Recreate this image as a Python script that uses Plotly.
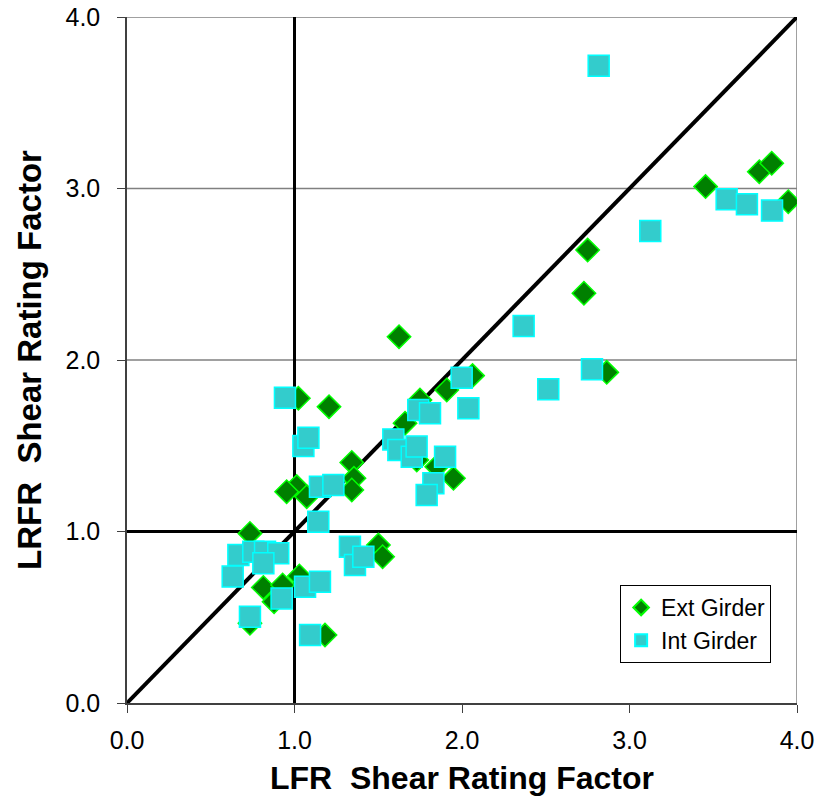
import plotly.graph_objects as go

ext_x = [1.624, 1.023, 1.206, 2.750, 2.728, 3.454, 3.775, 3.849, 3.948, 2.864,
         2.063, 1.909, 1.749, 1.660, 1.342, 1.355, 1.342, 1.013, 0.953, 1.073,
         1.849, 1.949, 1.730, 0.734, 1.501, 1.526, 0.814, 0.929, 0.878, 1.029,
         0.734, 1.182]
ext_y = [2.136, 1.777, 1.728, 2.641, 2.389, 3.011, 3.098, 3.147, 2.923, 1.928,
         1.909, 1.825, 1.767, 1.631, 1.403, 1.310, 1.242, 1.262, 1.232, 1.203,
         1.378, 1.310, 1.417, 0.989, 0.921, 0.853, 0.674, 0.688, 0.591, 0.741,
         0.465, 0.396]

int_x = [2.816, 3.580, 3.701, 3.851, 3.124, 2.368, 2.515, 2.776, 1.998, 2.038,
         0.943, 1.053, 1.083, 1.739, 1.809, 1.590, 1.620, 1.700, 1.729, 1.899,
         1.829, 1.789, 1.152, 1.232, 1.142, 1.331, 1.361, 1.411, 0.665, 0.754,
         0.824, 0.903, 0.814, 0.631, 0.923, 1.063, 1.152, 0.734, 1.093]
int_y = [3.716, 2.937, 2.908, 2.871, 2.752, 2.198, 1.829, 1.946, 1.897, 1.718,
         1.780, 1.499, 1.547, 1.708, 1.690, 1.537, 1.475, 1.436, 1.495, 1.436,
         1.281, 1.213, 1.261, 1.271, 1.057, 0.911, 0.805, 0.853, 0.863, 0.882,
         0.882, 0.873, 0.815, 0.737, 0.610, 0.678, 0.707, 0.503, 0.396]

tick_vals = [0, 1, 2, 3, 4]
tick_text = ["0.0", "1.0", "2.0", "3.0", "4.0"]
grid_vals = [2, 3, 4]
ref_line = [0, 4]

FONT = "Liberation Sans, Arial, sans-serif"

fig = go.Figure()
fig.add_trace(go.Scatter(x=ref_line, y=ref_line, mode="lines",
                         line=dict(color="black", width=4), showlegend=False,
                         hoverinfo="skip"))
fig.add_trace(go.Scatter(x=ext_x, y=ext_y, mode="markers", name="Ext Girder",
                         marker=dict(symbol="diamond", size=18, color="#008000",
                                     line=dict(color="#00FF00", width=1.5))))
fig.add_trace(go.Scatter(x=int_x, y=int_y, mode="markers", name="Int Girder",
                         marker=dict(symbol="square", size=21, color="#33CCCC",
                                     line=dict(color="#00FFFF", width=1.5))))

# gridlines
for g in grid_vals:
    fig.add_shape(type="line", x0=0, x1=4, y0=g, y1=g, xref="x", yref="y",
                  line=dict(color="#808080", width=1.5), layer="between")
# right border
fig.add_shape(type="line", x0=4, x1=4, y0=0, y1=4, xref="x", yref="y",
              line=dict(color="#808080", width=1.5), layer="between")
# reference lines at 1.0
fig.add_shape(type="line", x0=1, x1=1, y0=0, y1=4, xref="x", yref="y",
              line=dict(color="black", width=3), layer="between")
fig.add_shape(type="line", x0=0, x1=4, y0=1, y1=1, xref="x", yref="y",
              line=dict(color="black", width=3), layer="between")

fig.update_layout(
    width=819, height=806,
    margin=dict(l=127, r=22, t=17, b=103, autoexpand=False),
    paper_bgcolor="white", plot_bgcolor="white",
    font=dict(family=FONT, color="black", size=25),
    legend=dict(x=0.736, y=0.172, xanchor="left", yanchor="top",
                bordercolor="black", borderwidth=1, bgcolor="white",
                font=dict(size=23), itemsizing="constant",
                tracegroupgap=0),
)
fig.update_xaxes(range=[0, 4], tickvals=tick_vals, ticktext=tick_text,
                 showgrid=False, zeroline=False, showline=True,
                 automargin=False,
                 linecolor="#404040", linewidth=1.5, mirror=False,
                 ticks="outside", ticklen=8, tickcolor="#404040",
                 ticklabelstandoff=6,
                 tickfont=dict(size=25, family=FONT),
                 title=dict(text="<b>LFR  Shear Rating Factor</b>",
                            font=dict(size=32, family=FONT), standoff=14))
fig.update_yaxes(range=[0, 4], tickvals=tick_vals, ticktext=tick_text,
                 showgrid=False, zeroline=False, showline=True,
                 automargin=False,
                 linecolor="#404040", linewidth=1.5,
                 ticks="outside", ticklen=8, tickcolor="#404040",
                 ticklabelstandoff=12,
                 tickfont=dict(size=25, family=FONT),
                 title=dict(text="<b>LRFR  Shear Rating Factor</b>",
                            font=dict(size=33, family=FONT), standoff=14))

fig.write_html("out.html")
